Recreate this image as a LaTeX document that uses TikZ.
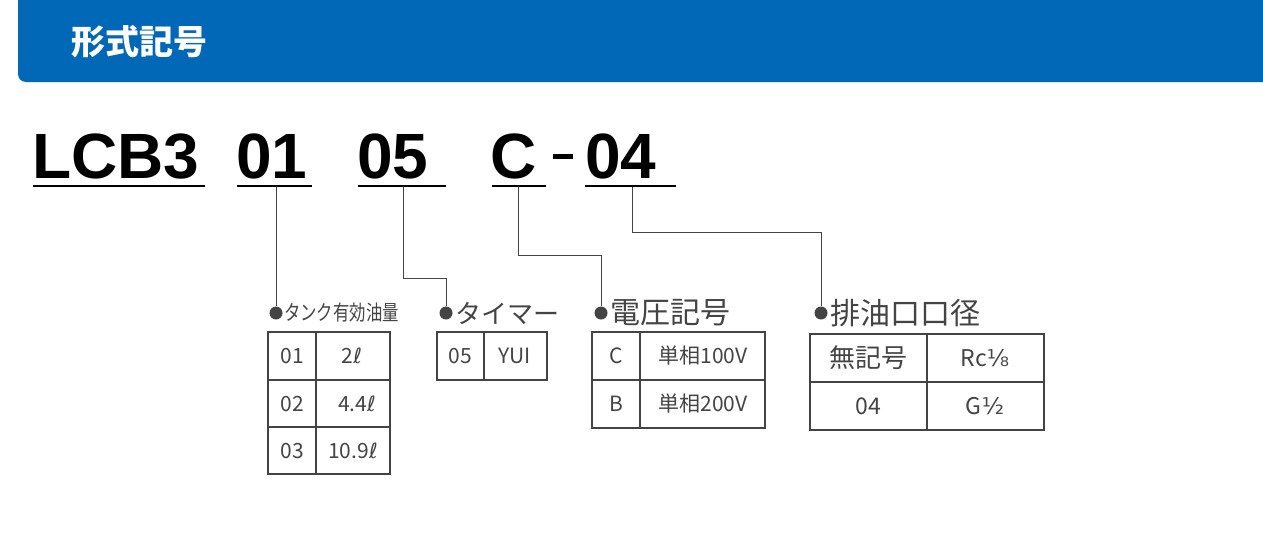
\documentclass[tikz,border=0pt]{standalone}
\usepackage{fontspec}
\setmainfont{Noto Sans CJK JP}
\newfontfamily\codef{Liberation Sans}
\newfontfamily\djv{DejaVu Sans}
\definecolor{hdr}{HTML}{0068B7}
\definecolor{ln}{HTML}{444444}
\begin{document}
\begin{tikzpicture}[x=1pt,y=-1pt,
  ln/.style={draw=ln,line width=1pt},
  tb/.style={draw=ln,line width=1.3pt},
  dot/.style={circle,fill=ln,inner sep=0pt,minimum size=13pt},
  code/.style={font=\codef\fontsize{64}{64}\selectfont\bfseries,inner sep=0pt,anchor=base west,text=black},
  lab/.style={anchor=west,inner sep=0pt,text=ln},
  cell/.style={inner sep=0pt,text=ln,font=\fontsize{21}{21}\selectfont}]
\useasboundingbox (0,0) rectangle (1263,554);
\fill[hdr,rounded corners=8pt] (18,-10) rectangle (1280,82);
\node[text=white,font=\fontsize{34}{34}\selectfont\bfseries,anchor=west] (title) at (68,42) {形式記号};
% code
\node[code] (lcb) at (32,178) {LCB3};
\node[code] (c01) at (236,178) {01};
\node[code] (c05) at (357,178) {05};
\node[code] (cc) at (490,178) {C};
\node[code] (c04) at (585,178) {04};
\draw[line width=5pt] (553,156) -- (573,156);
\foreach \a/\b in {33/205,237/312,358/446,492/546,585/676}
  \draw[line width=2.5pt] (\a,186) -- (\b,186);
\coordinate (s1) at (276,187); \coordinate (s2) at (403,187);
\coordinate (s3) at (518,187); \coordinate (s4) at (632,187);
\node[dot] (d1) at (276,313) {}; \node[dot] (d2) at (446,313) {};
\node[dot] (d3) at (601,313) {}; \node[dot] (d4) at (821,313) {};
\draw[ln] (s1) -- (d1);
\draw[ln] (s2) |- (446,278) -- (d2);
\draw[ln] (s3) |- (601,255) -- (d3);
\draw[ln] (s4) |- (821,232) -- (d4);
\node[lab,font=\fontsize{21}{21}\selectfont] (l1) at (284,313) {\scalebox{0.78}[1]{タンク有効油量}};
\node[lab,font=\fontsize{26}{26}\selectfont] (l2) at (455,313) {タイマー};
\node[lab,font=\fontsize{30}{30}\selectfont] (l3) at (610,313) {電圧記号};
\node[lab,font=\fontsize{30}{30}\selectfont] (l4) at (830,313) {排油口口径};
% table 1
\draw[tb] (268,332) rectangle (390,474) (316,332) -- (316,474) (268,380) -- (390,380) (268,427) -- (390,427);
\node[cell] (a1) at (292,356) {01}; \node[cell] (b1) at (352,356) {2{\djv ℓ}};
\node[cell] (a2) at (292,404) {02}; \node[cell] (b2) at (357,404) {4.4{\djv ℓ}};
\node[cell] (a3) at (292,451) {03}; \node[cell] (b3) at (353,451) {10.9{\djv ℓ}};
% table 2
\draw[tb] (437,332) rectangle (547,380) (484,332) -- (484,380);
\node[cell] (a4) at (460,356) {05}; \node[cell] (b4) at (515,356) {YUI};
% table 3
\draw[tb] (592,332) rectangle (765,428) (640,332) -- (640,428) (592,380) -- (765,380);
\node[cell] (a5) at (616,356) {C}; \node[cell] (b5) at (703,356) {単相100V};
\node[cell] (a6) at (616,404) {B}; \node[cell] (b6) at (703,404) {単相200V};
% table 4
\draw[tb] (810,334) rectangle (1044,430) (927,334) -- (927,430) (810,382) -- (1044,382);
\node[cell,font=\fontsize{26}{26}\selectfont] (a7) at (868,358) {無記号};
\node[cell,font=\fontsize{23}{23}\selectfont] (b7) at (985,358) {Rc{\djv ⅛}};
\node[cell,font=\fontsize{23}{23}\selectfont] (a8) at (868,406) {04};
\node[cell,font=\fontsize{23}{23}\selectfont] (b8) at (985,406) {G{\djv ½}};
\end{tikzpicture}
\end{document}
